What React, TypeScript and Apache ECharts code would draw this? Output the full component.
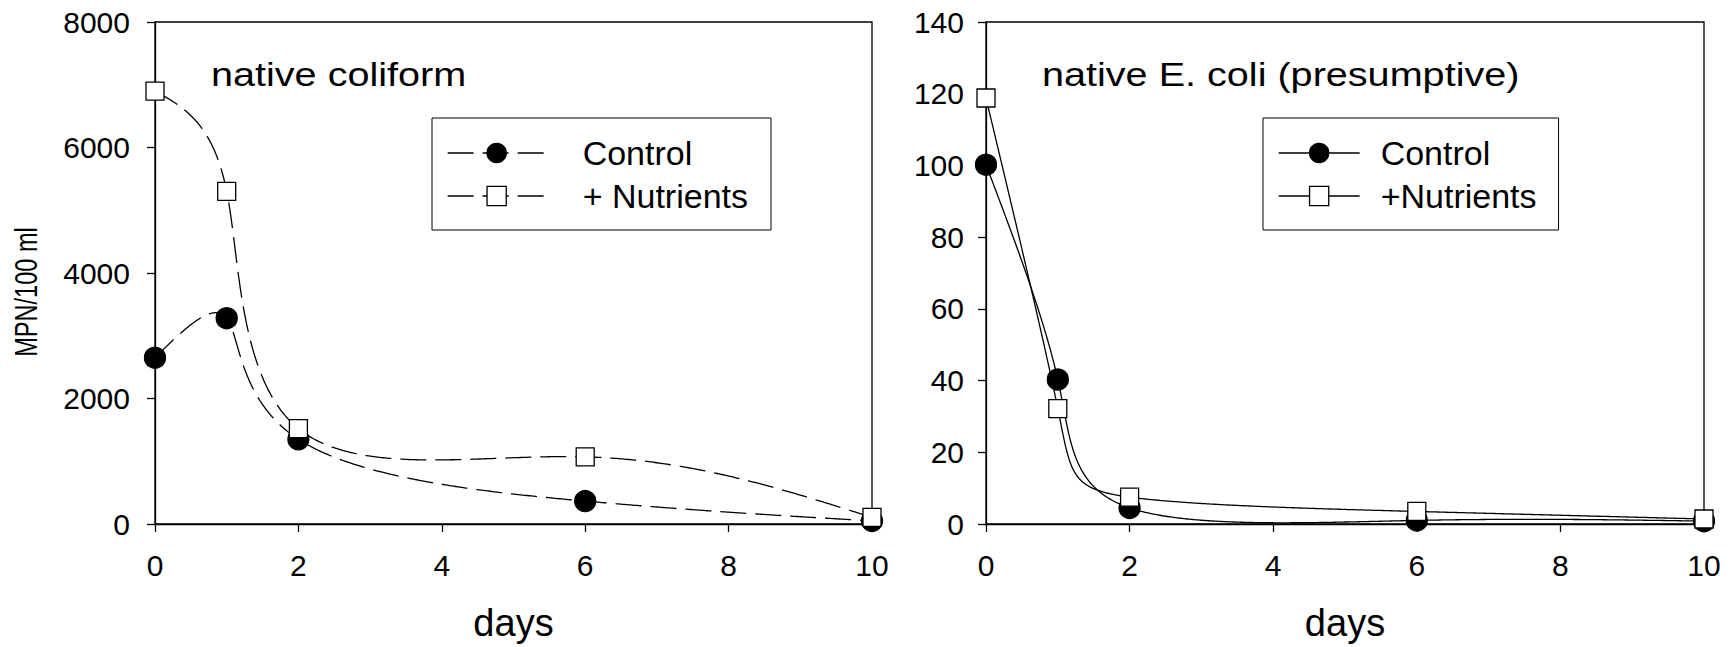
import React, { useEffect, useRef } from "react";
import * as echarts from "echarts";

const days = [0, 1, 2, 6, 10];
const coliformControl = [2650, 3280, 1350, 365, 50];
const coliformNutrients = [6900, 5300, 1520, 1070, 105];
const ecoliControl = [100.2, 40.3, 4.5, 1, 0.8];
const ecoliNutrients = [118.8, 32.2, 7.5, 3.5, 1.4];

const leftTitle = "native coliform";
const rightTitle = "native E. coli (presumptive)";
const yName = "MPN/100 ml";
const xName = "days";
const legendNames: Record<string, string> = {
  cL: "Control",
  nL: "+ Nutrients",
  cR: "Control",
  nR: "+Nutrients",
};

const FONT = "'Liberation Sans', Arial, sans-serif";
const DASH = [26, 9];

// natural cubic spline through (ts, vs)
function naturalSpline(xs: number[], ys: number[]) {
  const n = xs.length;
  const h: number[] = [];
  const al: number[] = [];
  const l: number[] = new Array(n).fill(0);
  const mu: number[] = new Array(n).fill(0);
  const z: number[] = new Array(n).fill(0);
  const c: number[] = new Array(n).fill(0);
  const b: number[] = new Array(n).fill(0);
  const d: number[] = new Array(n).fill(0);
  for (let i = 0; i < n - 1; i++) h[i] = xs[i + 1] - xs[i];
  for (let i = 1; i < n - 1; i++)
    al[i] = (3 / h[i]) * (ys[i + 1] - ys[i]) - (3 / h[i - 1]) * (ys[i] - ys[i - 1]);
  l[0] = 1;
  for (let i = 1; i < n - 1; i++) {
    l[i] = 2 * (xs[i + 1] - xs[i - 1]) - h[i - 1] * mu[i - 1];
    mu[i] = h[i] / l[i];
    z[i] = (al[i] - h[i - 1] * z[i - 1]) / l[i];
  }
  for (let j = n - 2; j >= 0; j--) {
    c[j] = z[j] - mu[j] * c[j + 1];
    b[j] = (ys[j + 1] - ys[j]) / h[j] - (h[j] * (c[j + 1] + 2 * c[j])) / 3;
    d[j] = (c[j + 1] - c[j]) / (3 * h[j]);
  }
  return (t: number) => {
    let j = 0;
    while (j < n - 2 && t > xs[j + 1]) j++;
    const dx = t - xs[j];
    return ys[j] + b[j] * dx + c[j] * dx * dx + d[j] * dx * dx * dx;
  };
}

// curve: parametric natural spline (uniform parameter) through the points, in pixel space
function curveSeries(name: string, ys: number[], axis: number, dashed: boolean) {
  return {
    type: "custom",
    name,
    xAxisIndex: axis,
    yAxisIndex: axis,
    silent: true,
    z: 1,
    data: days.map((x, i) => [x, ys[i]]),
    renderItem: (params: any, api: any) => {
      if (params.dataIndex !== 0) return null;
      const px = days.map((x, i) => api.coord([x, ys[i]]));
      const ts = px.map((_, i) => i);
      const fx = naturalSpline(ts, px.map((p) => p[0]));
      const fy = naturalSpline(ts, px.map((p) => p[1]));
      const total = ts[ts.length - 1];
      const pts: number[][] = [];
      const steps = 600;
      for (let k = 0; k <= steps; k++) {
        const t = (total * k) / steps;
        pts.push([fx(t), fy(t)]);
      }
      return {
        type: "polyline",
        shape: { points: pts },
        style: {
          stroke: "#000",
          lineWidth: 1.3,
          fill: "none",
          lineDash: dashed ? DASH : undefined,
        },
      };
    },
  };
}

function markerSeries(name: string, ys: number[], axis: number, filled: boolean) {
  return {
    type: "line",
    name,
    xAxisIndex: axis,
    yAxisIndex: axis,
    z: 3,
    data: days.map((x, i) => [x, ys[i]]),
    symbol: filled ? "circle" : "rect",
    symbolSize: filled ? 21 : 18,
    showSymbol: true,
    showAllSymbol: true,
    clip: false,
    lineStyle: { width: 0, color: "#000" },
    itemStyle: {
      color: filled ? "#000" : "#fff",
      borderColor: "#000",
      borderWidth: 1.3,
    },
    silent: true,
  };
}

function xAxis(grid: number) {
  return {
    type: "value",
    gridIndex: grid,
    min: 0,
    max: 10,
    interval: 2,
    name: xName,
    nameLocation: "middle",
    nameGap: 80,
    nameTextStyle: { fontFamily: FONT, fontSize: 38, color: "#000" },
    axisLine: { show: true, onZero: false, lineStyle: { color: "#000", width: 1.3 } },
    axisTick: { show: true, inside: false, length: 8, lineStyle: { color: "#000", width: 1.3 } },
    axisLabel: { fontFamily: FONT, fontSize: 30, color: "#000", margin: 26, formatter: (v: number) => String(v) },
    splitLine: { show: false },
  };
}

function yAxis(grid: number, max: number, interval: number, margin: number) {
  return {
    type: "value",
    gridIndex: grid,
    min: 0,
    max,
    interval,
    axisLine: { show: true, onZero: false, lineStyle: { color: "#000", width: 1.3 } },
    axisTick: { show: true, inside: false, length: 8, lineStyle: { color: "#000", width: 1.3 } },
    axisLabel: { fontFamily: FONT, fontSize: 30, color: "#000", margin, formatter: (v: number) => String(v) },
    splitLine: { show: false },
  };
}

function legend(names: string[], left: number, textPad: number, rightPad: number, dashed: boolean) {
  return {
    show: true,
    orient: "vertical",
    left,
    top: 118,
    data: names,
    selectedMode: false,
    itemWidth: dashed ? 98 : 81,
    itemHeight: 24,
    itemGap: 9,
    padding: [18, rightPad, 17, 15],
    backgroundColor: "#fff",
    borderColor: "#000",
    borderWidth: 1,
    z: 10,
    formatter: (n: string) => legendNames[n] || n,
    textStyle: { fontFamily: FONT, fontSize: 34, color: "#000", padding: [0, 0, 0, textPad] },
    lineStyle: { width: 1.3, color: "#000", type: dashed ? DASH : "solid", opacity: 1 },
    itemStyle: { borderWidth: 1.3, borderColor: "#000", opacity: 1 },
  };
}

export default function App() {
  const ref = useRef<HTMLDivElement>(null);
  useEffect(() => {
    if (!ref.current) return;
    const chart = echarts.init(ref.current, null, { renderer: "svg" });
    const option: any = {
      animation: false,
      backgroundColor: "#fff",
      grid: [
        { left: 155, top: 22, width: 717, height: 502, show: true, borderColor: "#000", borderWidth: 1.3, backgroundColor: "transparent" },
        { left: 986, top: 22, width: 718, height: 502, show: true, borderColor: "#000", borderWidth: 1.3, backgroundColor: "transparent" },
      ],
      xAxis: [xAxis(0), xAxis(1)],
      yAxis: [yAxis(0, 8000, 2000, 25), yAxis(1, 140, 20, 22)],
      legend: [
        legend(["cL", "nL"], 432, 32, 23, true),
        legend(["cR", "nR"], 1263, 16, 22, false),
      ],
      graphic: [
        {
          type: "text",
          x: 211,
          y: 74.5,
          scaleX: 1.2,
          style: { text: leftTitle, fontFamily: FONT, fontSize: 33, fill: "#000", verticalAlign: "middle", align: "left" },
        },
        {
          type: "text",
          x: 1042,
          y: 74.5,
          scaleX: 1.2,
          style: { text: rightTitle, fontFamily: FONT, fontSize: 33, fill: "#000", verticalAlign: "middle", align: "left" },
        },
        {
          type: "text",
          x: 26,
          y: 292,
          rotation: Math.PI / 2,
          scaleX: 0.76,
          style: { text: yName, fontFamily: FONT, fontSize: 31, fill: "#000", verticalAlign: "middle", align: "center" },
        },
      ],
      series: [
        curveSeries("sCL", coliformControl, 0, true),
        curveSeries("sNL", coliformNutrients, 0, true),
        curveSeries("sCR", ecoliControl, 1, false),
        curveSeries("sNR", ecoliNutrients, 1, false),
        markerSeries("cL", coliformControl, 0, true),
        markerSeries("nL", coliformNutrients, 0, false),
        markerSeries("cR", ecoliControl, 1, true),
        markerSeries("nR", ecoliNutrients, 1, false),
      ],
    };
    chart.setOption(option);
    return () => chart.dispose();
  }, []);
  return (
    <div
      ref={ref}
      style={{ position: "fixed", left: 0, top: 0, width: 1734, height: 647, background: "#fff" }}
    />
  );
}
